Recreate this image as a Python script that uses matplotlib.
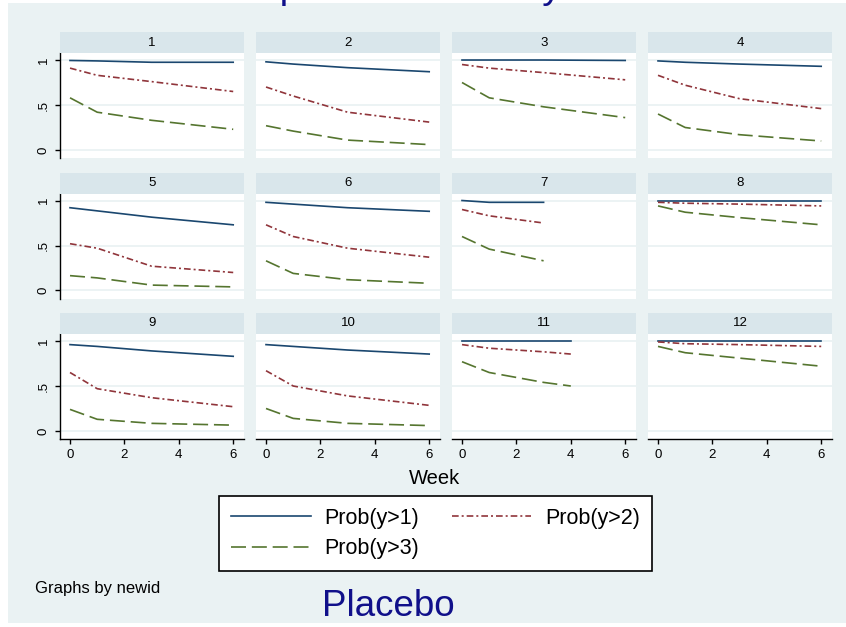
import matplotlib
matplotlib.use("Agg")
import matplotlib.pyplot as plt
from matplotlib.patches import Rectangle
from matplotlib.lines import Line2D

plt.rcParams['font.family'] = ['Liberation Sans', 'DejaVu Sans']

# ---------------- data ----------------
subject_ids = [1, 2, 3, 4, 5, 6, 7, 8, 9, 10, 11, 12]
weeks = [
    [0, 1, 3, 6], [0, 1, 3, 6], [0, 1, 3, 6], [0, 1, 3, 6],
    [0, 1, 3, 6], [0, 1, 3, 6], [0, 1, 3], [0, 1, 3, 6],
    [0, 1, 3, 6], [0, 1, 3, 6], [0, 1, 3, 4], [0, 1, 3, 6],
]
prob_gt1 = [
    [0.995, 0.99, 0.975, 0.975], [0.98, 0.955, 0.915, 0.87],
    [1.0, 1.0, 1.0, 0.995], [0.99, 0.975, 0.955, 0.93],
    [0.92, 0.885, 0.815, 0.73], [0.98, 0.96, 0.92, 0.88],
    [1.0, 0.98, 0.98], [1.0, 1.0, 1.0, 1.0],
    [0.96, 0.94, 0.89, 0.83], [0.96, 0.94, 0.90, 0.855],
    [1.0, 1.0, 1.0, 1.0], [1.0, 1.0, 1.0, 1.0],
]
prob_gt2 = [
    [0.91, 0.83, 0.76, 0.65], [0.70, 0.60, 0.42, 0.31],
    [0.95, 0.91, 0.86, 0.78], [0.83, 0.72, 0.57, 0.46],
    [0.52, 0.47, 0.27, 0.20], [0.73, 0.60, 0.47, 0.37],
    [0.90, 0.83, 0.75], [0.98, 0.97, 0.96, 0.94],
    [0.65, 0.47, 0.37, 0.27], [0.67, 0.50, 0.39, 0.285],
    [0.96, 0.92, 0.88, 0.855], [0.99, 0.97, 0.96, 0.94],
]
prob_gt3 = [
    [0.58, 0.42, 0.33, 0.23], [0.27, 0.21, 0.11, 0.06],
    [0.75, 0.58, 0.48, 0.36], [0.40, 0.25, 0.17, 0.10],
    [0.165, 0.14, 0.06, 0.04], [0.33, 0.19, 0.12, 0.08],
    [0.60, 0.46, 0.33], [0.94, 0.87, 0.81, 0.73],
    [0.24, 0.13, 0.085, 0.065], [0.25, 0.14, 0.085, 0.06],
    [0.77, 0.65, 0.54, 0.50], [0.94, 0.87, 0.81, 0.72],
]
x_ticks = [0, 2, 4, 6]
y_ticks = [0, 0.5, 1]
y_tick_labels = ['0', '.5', '1']
series_labels = ['Prob(y>1)', 'Prob(y>2)', 'Prob(y>3)']
x_title = 'Week'
note_text = 'Graphs by newid'
subtitle_text = 'Placebo'
title_text = 'Response curves by week'

# ---------------- style ----------------
W, H = 846, 627
BG = '#EAF2F3'
STRIP = '#D9E6EB'
C1, C2, C3 = '#1A476F', '#90353B', '#55752F'
TITLE_C = '#10108A'
LW = 1.2
DASH2 = (4, 1.8, 1.2, 1.8)
DASH3 = (9, 3.5)

fig = plt.figure(figsize=(W / 100, H / 100), dpi=100, facecolor='white')
fig.patches.append(Rectangle((8 / W, 4 / H), 1 - 8 / W, 1 - 7 / H,
                             transform=fig.transFigure, facecolor=BG,
                             edgecolor='none', zorder=-10))

for i, sid in enumerate(subject_ids):
    r, c = divmod(i, 4)
    L = 60 + 196 * c
    S = 32 + 140.5 * r
    ax = fig.add_axes([L / W, 1 - (S + 126) / H, 184 / W, 105 / H])
    ax.set_facecolor('white')
    ax.set_xlim(-0.368, 6.397)
    ax.set_ylim(-0.089, 1.078)
    ax.set_yticks(y_ticks)
    ax.set_yticklabels(y_tick_labels, rotation=90, va='center', fontsize=9.5)
    ax.yaxis.grid(True, color=BG, lw=1.3)
    ax.set_axisbelow(True)
    ax.set_xticks(x_ticks)
    ax.set_xticklabels([str(t) for t in x_ticks], fontsize=9.5)
    for sp in ['top', 'right']:
        ax.spines[sp].set_visible(False)
    ax.spines['left'].set_visible(c == 0)
    ax.spines['bottom'].set_visible(r == 2)
    for sp in ['left', 'bottom']:
        ax.spines[sp].set_linewidth(1.0)
        ax.spines[sp].set_color('black')
    ax.tick_params(axis='y', left=(c == 0), labelleft=(c == 0), length=3.5,
                   width=1.0, pad=4)
    ax.tick_params(axis='x', bottom=(r == 2), labelbottom=(r == 2), length=3.5,
                   width=1.0, pad=4)

    ax.plot(weeks[i], prob_gt1[i], color=C1, lw=LW)
    ax.plot(weeks[i], prob_gt2[i], color=C2, lw=LW, dashes=DASH2)
    ax.plot(weeks[i], prob_gt3[i], color=C3, lw=LW, dashes=DASH3)

    sx = fig.add_axes([L / W, 1 - (S + 21) / H, 184 / W, 21 / H])
    sx.set_facecolor(STRIP)
    sx.set_xticks([])
    sx.set_yticks([])
    for sp in sx.spines.values():
        sp.set_visible(False)
    sx.text(0.5, 0.5, str(sid), ha='center', va='center', fontsize=9.5,
            transform=sx.transAxes)

fig.text(435 / W, 1 - 478 / H, x_title, ha='center', va='center', fontsize=14.5)

h1 = Line2D([], [], color=C1, lw=LW)
h2 = Line2D([], [], color=C2, lw=LW, dashes=DASH2)
h3 = Line2D([], [], color=C3, lw=LW, dashes=DASH3)
leg = fig.legend([h1, h3, h2], [series_labels[0], series_labels[2], series_labels[1]],
                 ncol=2, loc='center', bbox_to_anchor=(435.5 / W, 1 - 533.5 / H),
                 frameon=True, fancybox=False, edgecolor='black', facecolor='white',
                 fontsize=15.5, handlelength=3.7, handletextpad=0.65,
                 columnspacing=1.5, labelspacing=0.45, borderpad=0.53,
                 framealpha=1)
leg.get_frame().set_linewidth(1.2)

fig.text(35 / W, 1 - 588 / H, note_text, ha='left', va='center', fontsize=12)
fig.text(388 / W, 1 - 606 / H, subtitle_text, ha='center', va='center',
         fontsize=26.5, color=TITLE_C)
# title of the original graph sits mostly above the visible canvas
fig.text(436.5 / W, 1 + 1.8 / H, title_text, ha='center', va='baseline',
         fontsize=27.9, color=TITLE_C)

fig.savefig('out.png', dpi=100)
